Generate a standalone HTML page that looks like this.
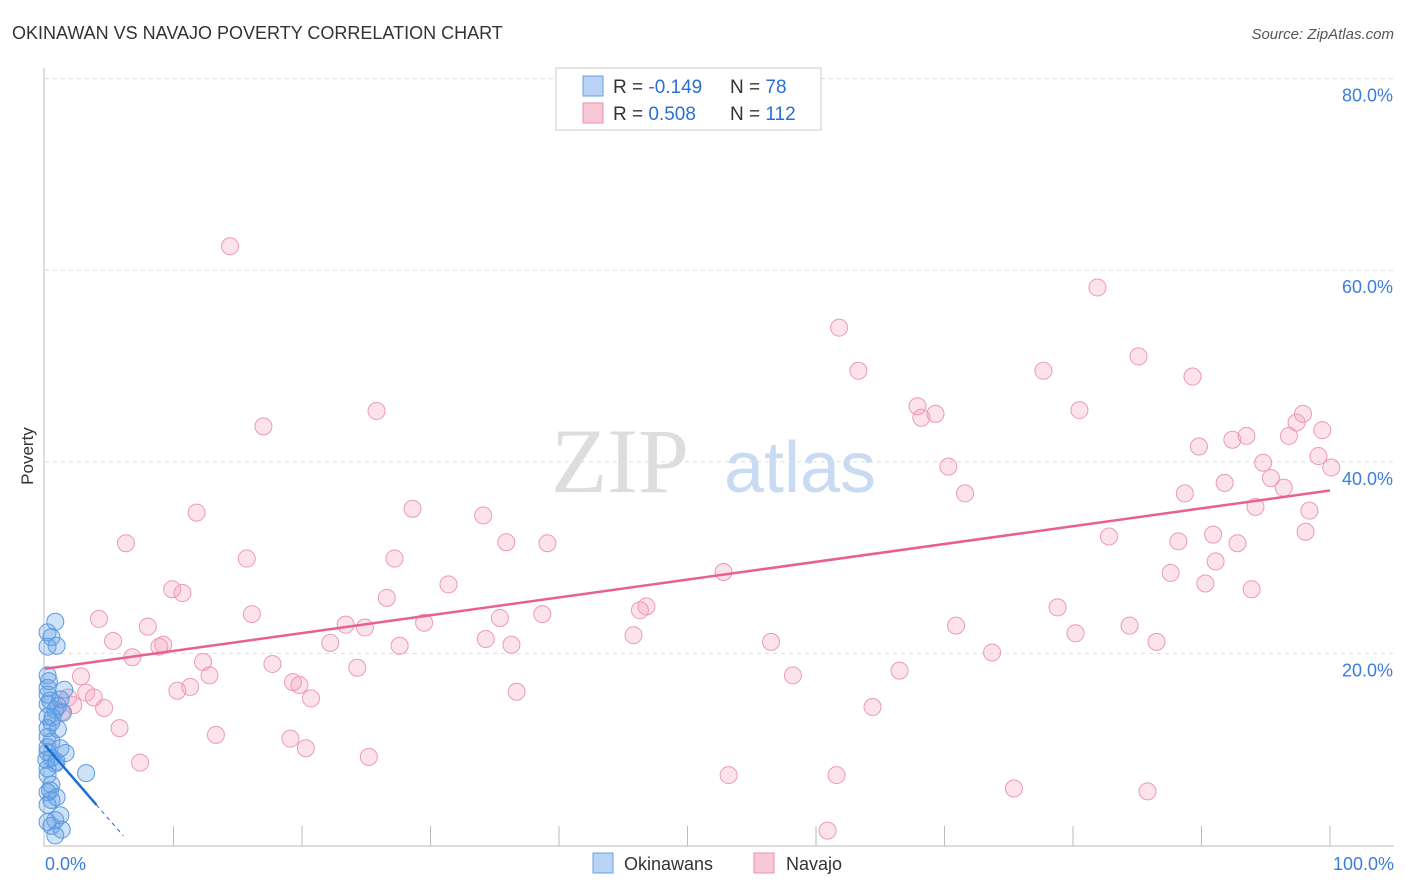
<!DOCTYPE html>
<html><head><meta charset="utf-8"><style>
body{margin:0;background:#fff;font-family:"Liberation Sans",sans-serif;}
#wrap{position:relative;width:1406px;height:892px;overflow:hidden;}
</style></head><body>
<div id="wrap">
<svg id="svg" width="1406" height="892" xmlns="http://www.w3.org/2000/svg">
<text x="12" y="39" font-size="18" fill="#333">OKINAWAN VS NAVAJO POVERTY CORRELATION CHART</text>
<text x="1394" y="39" font-size="15" fill="#555" font-style="italic" text-anchor="end">Source: ZipAtlas.com</text>
<text x="33" y="456" font-size="17" fill="#333" text-anchor="middle" transform="rotate(-90 33 456)">Poverty</text>
<text x="620" y="492" font-size="92" fill="#ddd" font-family="Liberation Serif,serif" text-anchor="middle">ZIP</text>
<text x="800" y="492" font-size="72" fill="#c9dbf3" text-anchor="middle">atlas</text>
<g id="grid"></g><g id="pts"></g><g id="lines"></g>
<g>
<rect x="556" y="68" width="265" height="62" fill="#fff" stroke="#ccc"/>
<rect x="583" y="76" width="20" height="20" fill="#b8d3f5" stroke="#6aa0e0"/>
<rect x="583" y="103" width="20" height="20" fill="#f9c8d8" stroke="#e891ae"/>
<text x="613" y="93" font-size="19" fill="#333">R = <tspan fill="#2a6fd4">-0.149</tspan></text>
<text x="730" y="93" font-size="19" fill="#333">N = <tspan fill="#2a6fd4"> 78</tspan></text>
<text x="613" y="120" font-size="19" fill="#333">R = <tspan fill="#2a6fd4"> 0.508</tspan></text>
<text x="730" y="120" font-size="19" fill="#333">N = <tspan fill="#2a6fd4">112</tspan></text>
</g>
<g>
<rect x="593" y="853" width="20" height="20" fill="#b8d3f5" stroke="#6aa0e0"/>
<text x="624" y="870" font-size="18" fill="#333">Okinawans</text>
<rect x="754" y="853" width="20" height="20" fill="#f9c8d8" stroke="#e891ae"/>
<text x="786" y="870" font-size="18" fill="#333">Navajo</text>
</g>
</svg></div>
<script>
const yTicks=[20,40,60,80];
const xTickLabels=["0.0%","100.0%"];
const blueX=[0.8,0.2,0.5,0.2,0.9,0.2,0.2,1.5,0.2,1.2,0.2,0.8,1.4,0.2,0.5,0.2,1.0,0.2,0.5,0.2,1.2,1.6,0.2,0.5,0.8,0.2,3.2,0.2,0.5,0.2,0.9,0.5,0.2,1.2,0.8,0.2,0.5,1.3,0.8,0.4,0.6,0.1,0.4,0.9,0.3,1.0];
const blueY=[23.3,22.2,21.7,20.7,20.8,17.7,16.4,16.2,15.7,15.2,14.7,14.1,13.8,13.4,12.8,12.2,12.1,11.3,10.8,10.2,10.1,9.6,9.7,9.1,8.5,8.0,7.5,7.3,6.3,5.5,5.0,4.7,4.2,3.1,2.6,2.4,2.0,1.6,1.0,15.1,13.3,8.9,5.7,8.7,17.1,14.5];
const pinkX=[14.4,81.9,61.8,85.1,63.3,77.7,89.3,67.9,25.8,80.5,68.2,69.3,97.9,17.0,97.4,99.4,96.8,93.5,92.4,89.8,99.1,94.8,100.1,70.3,95.4,96.4,91.8,71.6,88.7,94.2,98.4,28.6,34.1,11.8,98.1,90.9,82.8,88.2,92.8,35.9,39.1,6.3,91.1,15.7,27.2,52.8,87.6,90.3,31.4,9.9,10.7,93.9,26.6,46.8,46.3,78.8,16.1,38.7,35.4,4.2,29.5,8.0,23.4,24.9,70.9,84.4,80.2,45.8,5.3,34.3,22.2,56.5,86.5,9.2,8.9,36.3,27.6,73.7,6.8,12.3,17.7,24.3,66.5,12.8,58.2,2.8,19.3,19.8,11.3,10.3,36.7,3.2,3.8,20.7,1.8,2.2,4.6,1.3,64.4,5.8,13.3,19.1,20.3,25.2,7.4,53.2,61.6,75.4,85.8,60.9];
const pinkY=[62.5,58.2,54.0,51.0,49.5,49.5,48.9,45.8,45.3,45.4,44.6,45.0,45.0,43.7,44.1,43.3,42.7,42.7,42.3,41.6,40.6,39.9,39.4,39.5,38.3,37.3,37.8,36.7,36.7,35.3,34.9,35.1,34.4,34.7,32.7,32.4,32.2,31.7,31.5,31.6,31.5,31.5,29.6,29.9,29.9,28.5,28.4,27.3,27.2,26.7,26.3,26.7,25.8,24.9,24.5,24.8,24.1,24.1,23.7,23.6,23.2,22.8,23.0,22.7,22.9,22.9,22.1,21.9,21.3,21.5,21.1,21.2,21.2,20.9,20.7,20.9,20.8,20.1,19.6,19.1,18.9,18.5,18.2,17.7,17.7,17.6,17.0,16.7,16.5,16.1,16.0,15.9,15.4,15.3,15.4,14.6,14.3,13.9,14.4,12.2,11.5,11.1,10.1,9.2,8.6,7.3,7.3,5.9,5.6,1.5];
const blueFit=[10.4,-1.55];
const pinkFit=[18.4,0.186];
const NS="http://www.w3.org/2000/svg";
const X=v=>45+v*12.85, Y=v=>845-v*9.58;
function mk(t,a,p){const e=document.createElementNS(NS,t);for(const k in a)e.setAttribute(k,a[k]);p.appendChild(e);return e;}
const grid=document.getElementById('grid'),pts=document.getElementById('pts'),lines=document.getElementById('lines');
let ax=mk('line',{x1:44,y1:68,x2:44,y2:846,stroke:'#bbb'},grid);

let bx=mk('line',{x1:44,y1:846,x2:1394,y2:846,stroke:'#bbb'},grid);

yTicks.forEach(t=>{const g=mk('line',{x1:45,y1:Y(t),x2:1394,y2:Y(t),stroke:'#ddd','stroke-dasharray':'4 4'},grid);

const l=mk('text',{x:1393,y:Y(t)+23,'font-size':18,fill:'#3b7ddd','text-anchor':'end'},grid);l.textContent=t.toFixed(1)+'%';
});
for(let i=1;i<=10;i++){const k=mk('line',{x1:X(i*10),y1:826,x2:X(i*10),y2:846,stroke:'#bbb'},grid);
}
const l0=mk('text',{x:45,y:870,'font-size':18,fill:'#3b7ddd'},grid);l0.textContent=xTickLabels[0];

const l1=mk('text',{x:1394,y:870,'font-size':18,fill:'#3b7ddd','text-anchor':'end'},grid);l1.textContent=xTickLabels[1];

pinkX.forEach((x,i)=>{const c=mk('circle',{cx:X(x),cy:Y(pinkY[i]),r:8.5,fill:'rgba(244,160,190,0.3)',stroke:'#eb9ab5','stroke-width':1},pts);
});
blueX.forEach((x,i)=>{const c=mk('circle',{cx:X(x),cy:Y(blueY[i]),r:8.5,fill:'rgba(100,160,230,0.3)',stroke:'#5b9be0','stroke-width':1},pts);
});
const pl=mk('line',{x1:X(0),y1:Y(pinkFit[0]),x2:X(100),y2:Y(pinkFit[0]+100*pinkFit[1]),stroke:'#e8608f','stroke-width':2.5},lines);

const bl=mk('line',{x1:X(0),y1:Y(blueFit[0]),x2:X(4),y2:Y(blueFit[0]+4*blueFit[1]),stroke:'#1a6fd4','stroke-width':2.5},lines);

const bd=mk('line',{x1:X(4),y1:Y(blueFit[0]+4*blueFit[1]),x2:X(6.1),y2:Y(blueFit[0]+6.1*blueFit[1]),stroke:'#1a6fd4','stroke-width':1,'stroke-dasharray':'4 4'},lines);

</script>
</body></html>
